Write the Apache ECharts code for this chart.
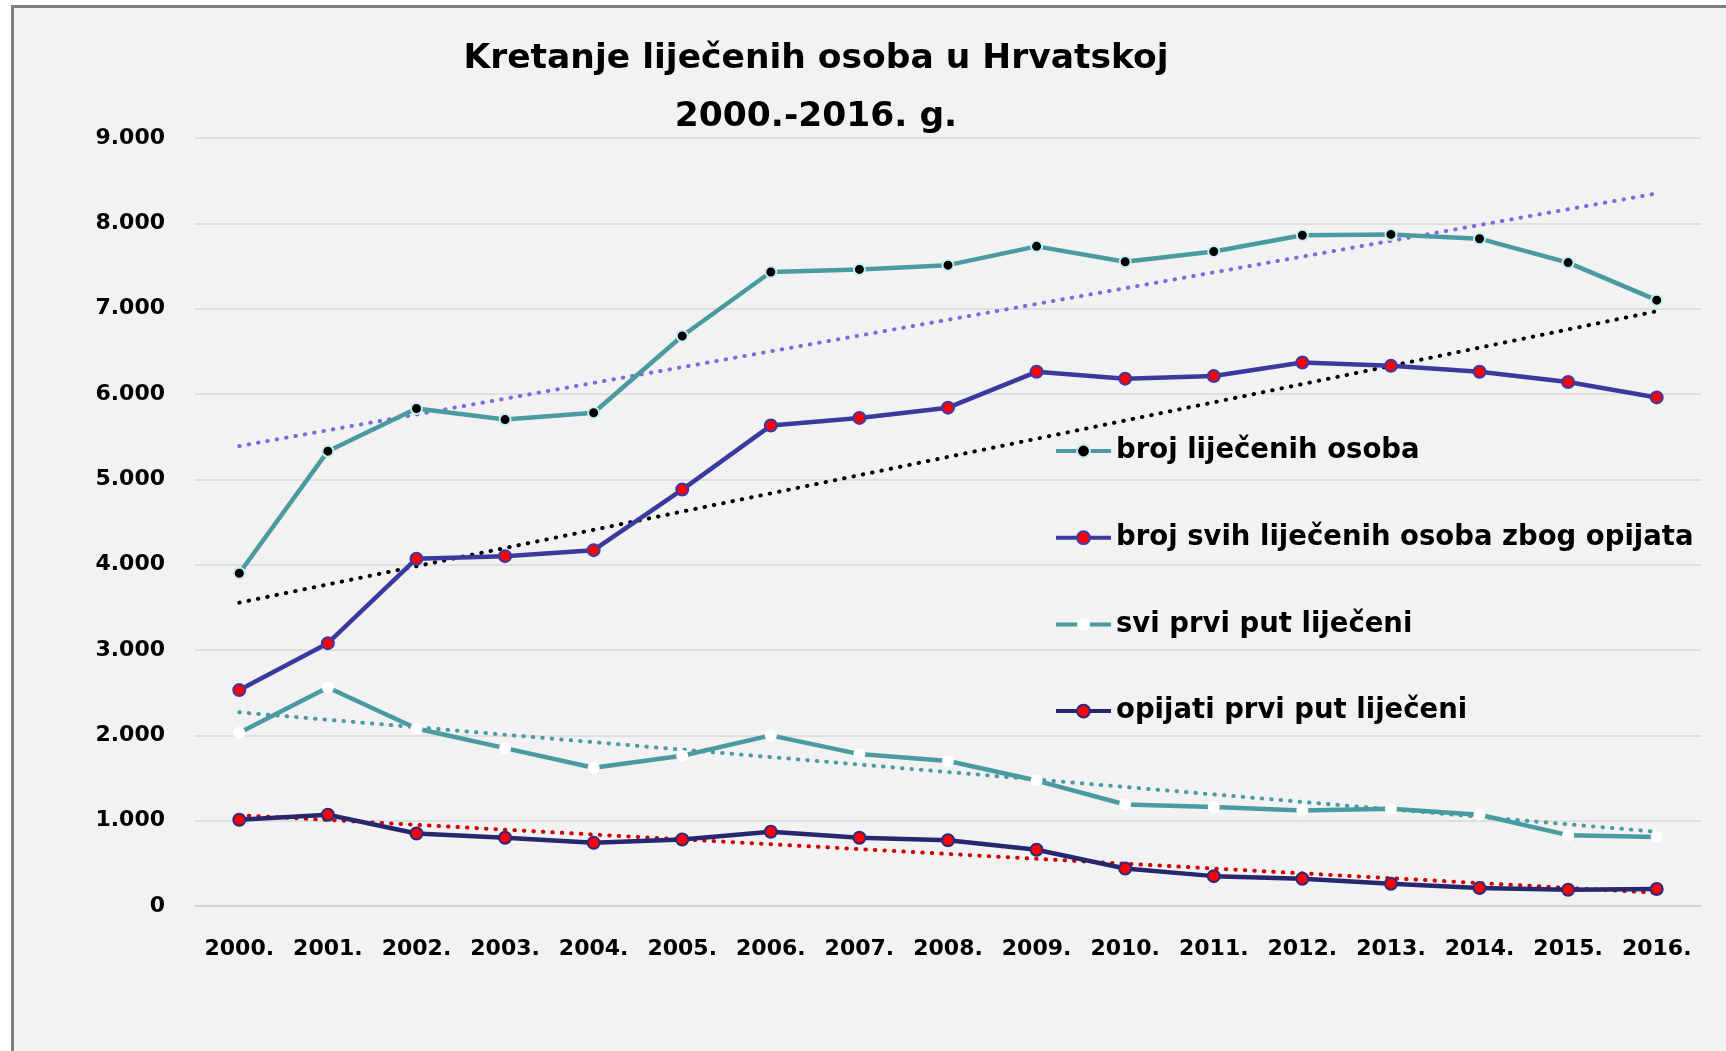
<!DOCTYPE html>
<html>
<head>
<meta charset="utf-8">
<title>Kretanje liječenih osoba u Hrvatskoj</title>
<script src="https://cdn.jsdelivr.net/npm/echarts@6/dist/echarts.min.js"></script>
<style>
    html, body { margin: 0; padding: 0; background: #fff; }
    .frame {
        position: absolute;
        left: 11px;
        top: 5px;
        width: 1712px;
        height: 1043px;
        border-left: 3px solid #7f7f7f;
        border-top: 3px solid #7f7f7f;
        background: #f2f2f2;
    }
    #chart { width: 1712px; height: 1043px; }
</style>
</head>
<body>
<div class="frame"><div id="chart"></div></div>
<script>
var years = ['2000.', '2001.', '2002.', '2003.', '2004.', '2005.', '2006.', '2007.', '2008.',
    '2009.', '2010.', '2011.', '2012.', '2013.', '2014.', '2015.', '2016.'];
var lijeceni = [3900, 5330, 5830, 5700, 5780, 6680, 7430, 7460, 7510, 7730, 7550, 7670, 7860, 7870, 7820, 7540, 7100];
var opijatiSvi = [2530, 3080, 4070, 4100, 4170, 4880, 5630, 5720, 5840, 6260, 6180, 6210, 6370, 6330, 6260, 6140, 5960];
var sviPrviPut = [2030, 2560, 2080, 1850, 1620, 1760, 2000, 1780, 1700, 1470, 1190, 1160, 1120, 1140, 1070, 830, 810];
var opijatiPrviPut = [1010, 1070, 850, 800, 740, 780, 870, 800, 770, 660, 440, 350, 320, 260, 210, 190, 200];
// linearni trendovi: vrijednost u 2000. i 2016.
var trendLijeceni = [5390, 8350];
var trendOpijatiSvi = [3555, 6970];
var trendSviPrvi = [2270, 870];
var trendOpijatiPrvi = [1065, 155];
var yTicks = [0, 1000, 2000, 3000, 4000, 5000, 6000, 7000, 8000, 9000];

var font = '"DejaVu Sans", sans-serif';

function trendData(ends) {
    var arr = [];
    for (var i = 0; i < years.length; i++) arr.push(null);
    arr[0] = ends[0];
    arr[years.length - 1] = ends[1];
    return arr;
}

function trendSeries(name, ends, color) {
    return {
        name: name,
        type: 'line',
        data: trendData(ends),
        connectNulls: true,
        symbol: 'none',
        silent: true,
        z: 3,
        lineStyle: { color: color, width: 4, type: [0.5, 9], cap: 'round' }
    };
}

var chart = echarts.init(document.getElementById('chart'));
chart.setOption({
    animation: false,
    title: {
        text: 'Kretanje liječenih osoba u Hrvatskoj\n2000.-2016. g.',
        left: 802,
        top: 22,
        padding: 0,
        textAlign: 'center',
        textStyle: {
            fontFamily: font,
            fontSize: 34.5,
            fontWeight: 'bold',
            color: '#000',
            lineHeight: 58
        }
    },
    legend: {
        orient: 'vertical',
        left: 1040,
        top: 428,
        padding: 0,
        itemGap: 56.7,
        itemWidth: 55,
        itemHeight: 16,
        selectedMode: false,
        lineStyle: { width: 4 },
        data: ['broj liječenih osoba', 'broj svih liječenih osoba zbog opijata', 'svi prvi put liječeni', 'opijati prvi put liječeni'],
        textStyle: {
            fontFamily: font,
            fontSize: 27.5,
            fontWeight: 'bold',
            color: '#000',
            lineHeight: 30
        }
    },
    grid: {
        left: 181,
        right: 25,
        top: 130,
        bottom: 145
    },
    xAxis: {
        type: 'category',
        data: years,
        axisTick: { show: false },
        axisLine: { lineStyle: { color: '#d0d0d0', width: 2 } },
        axisLabel: {
            margin: 32,
            fontFamily: font,
            fontSize: 22,
            fontWeight: 'bold',
            color: '#000',
            interval: 0
        }
    },
    yAxis: {
        type: 'value',
        min: yTicks[0],
        max: yTicks[yTicks.length - 1],
        interval: 1000,
        axisLine: { show: false },
        axisTick: { show: false },
        splitLine: { lineStyle: { color: '#d9d9d9', width: 1.5 } },
        axisLabel: {
            margin: 30,
            fontFamily: font,
            fontSize: 22,
            fontWeight: 'bold',
            color: '#000',
            formatter: function (v) {
                return v === 0 ? '0' : String(v).replace(/(\d)(?=(\d{3})+$)/g, '$1.');
            }
        }
    },
    series: [
        {
            name: 'broj liječenih osoba',
            type: 'line',
            data: lijeceni,
            symbol: 'circle',
            symbolSize: 11,
            z: 4,
            lineStyle: { color: '#4a9ba1', width: 4.5 },
            itemStyle: { color: '#000', borderColor: '#c8eef0', borderWidth: 2 }
        },
        {
            name: 'broj svih liječenih osoba zbog opijata',
            type: 'line',
            data: opijatiSvi,
            symbol: 'circle',
            symbolSize: 12,
            z: 4,
            lineStyle: { color: '#3a3a9e', width: 4.5 },
            itemStyle: { color: '#ff0000', borderColor: '#3a3aa8', borderWidth: 2 }
        },
        {
            name: 'svi prvi put liječeni',
            type: 'line',
            data: sviPrviPut,
            symbol: 'circle',
            symbolSize: 12,
            z: 4,
            lineStyle: { color: '#4a9ba1', width: 4.5 },
            itemStyle: { color: '#ffffff', borderColor: '#ffffff', borderWidth: 0 }
        },
        {
            name: 'opijati prvi put liječeni',
            type: 'line',
            data: opijatiPrviPut,
            symbol: 'circle',
            symbolSize: 12,
            z: 4,
            lineStyle: { color: '#27276f', width: 4.5 },
            itemStyle: { color: '#ff0000', borderColor: '#2a2a80', borderWidth: 2 }
        },
        trendSeries('trend liječeni', trendLijeceni, '#7b6cd9'),
        trendSeries('trend opijati', trendOpijatiSvi, '#000000'),
        trendSeries('trend prvi put', trendSviPrvi, '#4a9ba1'),
        trendSeries('trend opijati prvi put', trendOpijatiPrvi, '#d00000')
    ]
});
</script>
</body>
</html>
